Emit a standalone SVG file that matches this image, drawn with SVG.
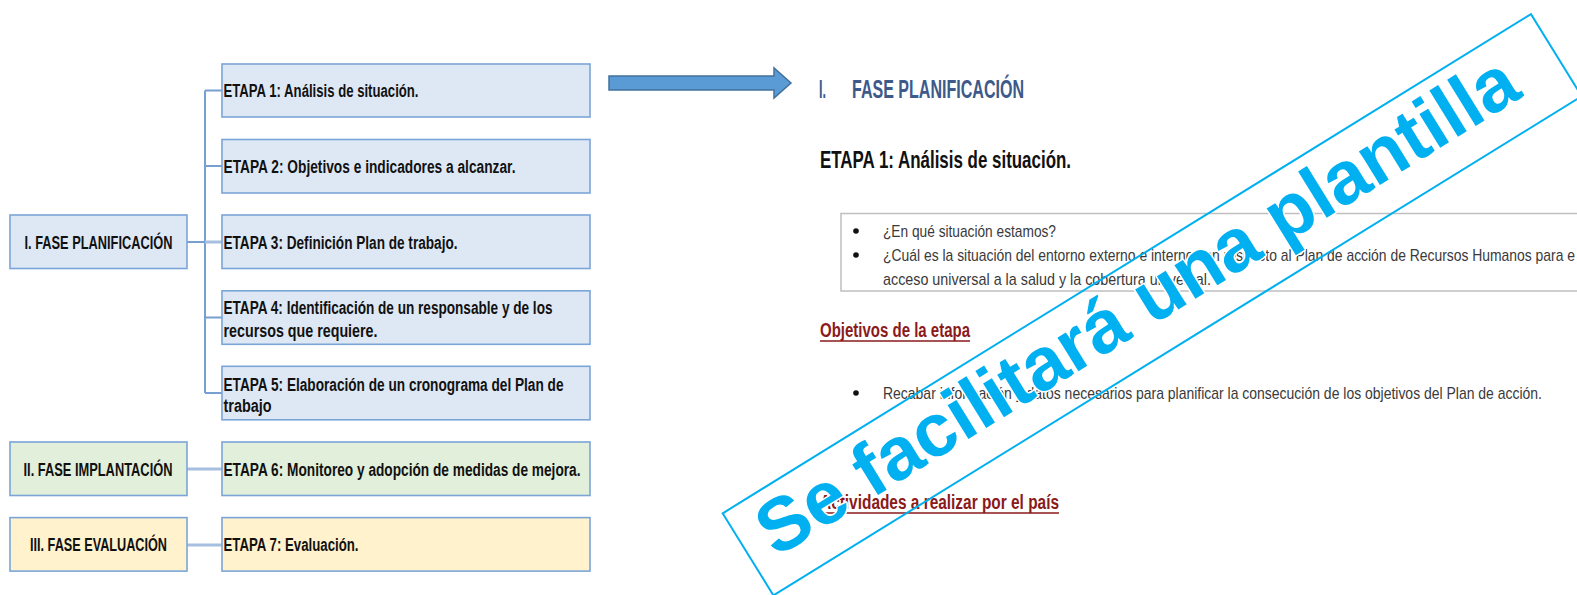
<svg xmlns="http://www.w3.org/2000/svg" width="1577" height="595" viewBox="0 0 1577 595">
<style>
.bb{fill:#DEE8F5;stroke:#7BA5D6;stroke-width:1.6}
.bg{fill:#E2EFDA;stroke:#7BA5D6;stroke-width:1.6}
.by{fill:#FFF2CC;stroke:#7BA5D6;stroke-width:1.6}
.t{font-family:'Liberation Sans',Arial,sans-serif;font-weight:bold;font-size:18px;fill:#111}
.tc{text-anchor:middle}
.c1{stroke:#779FD0;stroke-width:2;fill:none}
.c2{stroke:#A6BFE0;stroke-width:3;fill:none}
.h1{font-family:'Liberation Sans',Arial,sans-serif;font-weight:bold;font-size:25px;fill:#3D5A8A}
.h2{font-family:'Liberation Sans',Arial,sans-serif;font-weight:bold;font-size:24px;fill:#111}
.p{font-family:'Liberation Sans',Arial,sans-serif;font-size:17px;fill:#3A3A3A}
.r{font-family:'Liberation Sans',Arial,sans-serif;font-weight:bold;font-size:20px;fill:#8B1A1A}
.u{stroke:#8B1A1A;stroke-width:1.5}
.dot{fill:#111}
.wm{font-family:'Liberation Sans',Arial,sans-serif;font-weight:bold;font-size:75px;fill:#00B0F0;stroke:#fff;stroke-width:3;paint-order:stroke;stroke-linejoin:round}
</style>
<g id="connectors">
<path class="c1" d="M205 90.5 V393 M205 90.5 H222 M205 166 H222 M205 317.5 H222 M205 393 H222 M187 242 H205"/>
<path class="c2" d="M205 242 H222 M187 469 H222 M187 545 H222"/>
</g>
<g id="fase1"><rect class="bb" x="10" y="215" width="177" height="53.5"/><text class="t tc" x="98.5" y="248.5" textLength="148" lengthAdjust="spacingAndGlyphs">I. FASE PLANIFICACIÓN</text></g>
<g id="fase2"><rect class="bg" x="10" y="442" width="177" height="53.5"/><text class="t tc" x="98" y="475.5" textLength="149" lengthAdjust="spacingAndGlyphs">II. FASE IMPLANTACIÓN</text></g>
<g id="fase3"><rect class="by" x="10" y="517.6" width="177" height="53.5"/><text class="t tc" x="98.5" y="551" textLength="137" lengthAdjust="spacingAndGlyphs">III. FASE EVALUACIÓN</text></g>
<g id="etapa1"><rect class="bb" x="222" y="64" width="368" height="53"/><text class="t" x="223.5" y="97" textLength="195" lengthAdjust="spacingAndGlyphs">ETAPA 1: Análisis de situación.</text></g>
<g id="etapa2"><rect class="bb" x="222" y="139.5" width="368" height="53.5"/><text class="t" x="223.5" y="172.5" textLength="292" lengthAdjust="spacingAndGlyphs">ETAPA 2: Objetivos e indicadores a alcanzar.</text></g>
<g id="etapa3"><rect class="bb" x="222" y="215" width="368" height="53.5"/><text class="t" x="223.5" y="248.5" textLength="234" lengthAdjust="spacingAndGlyphs">ETAPA 3: Definición Plan de trabajo.</text></g>
<g id="etapa4"><rect class="bb" x="222" y="290.8" width="368" height="53.5"/><text class="t" x="223.5" y="314" textLength="329" lengthAdjust="spacingAndGlyphs">ETAPA 4: Identificación de un responsable y de los</text><text class="t" x="223.5" y="337" textLength="154" lengthAdjust="spacingAndGlyphs">recursos que requiere.</text></g>
<g id="etapa5"><rect class="bb" x="222" y="366.3" width="368" height="53.5"/><text class="t" x="223.5" y="390.5" textLength="340" lengthAdjust="spacingAndGlyphs">ETAPA 5: Elaboración de un cronograma del Plan de</text><text class="t" x="223.5" y="411.5" textLength="48" lengthAdjust="spacingAndGlyphs">trabajo</text></g>
<g id="etapa6"><rect class="bg" x="222" y="442" width="368" height="53.5"/><text class="t" x="223.5" y="475.5" textLength="357" lengthAdjust="spacingAndGlyphs">ETAPA 6: Monitoreo y adopción de medidas de mejora.</text></g>
<g id="etapa7"><rect class="by" x="222" y="517.6" width="368" height="53.5"/><text class="t" x="223.5" y="551" textLength="135" lengthAdjust="spacingAndGlyphs">ETAPA 7: Evaluación.</text></g>
<g id="arrow"><path d="M609 76 H774 V68 L791 83 L774 98 V90 H609 Z" fill="#5B9BD5" stroke="#41719C" stroke-width="1.5" stroke-linejoin="miter"/></g>
<g id="document">
<text class="h1" x="819" y="97.5" textLength="7" lengthAdjust="spacingAndGlyphs">I.</text>
<text class="h1" x="852" y="97.5" textLength="172" lengthAdjust="spacingAndGlyphs">FASE PLANIFICACIÓN</text>
<text class="h2" x="820" y="167.5" textLength="251" lengthAdjust="spacingAndGlyphs">ETAPA 1: Análisis de situación.</text>
<rect x="841" y="213.5" width="800" height="77.5" fill="none" stroke="#BFBFBF" stroke-width="1.5"/>
<circle class="dot" cx="856" cy="231" r="2.8"/>
<circle class="dot" cx="856" cy="255" r="2.8"/>
<text class="p" x="883" y="236.5" textLength="173" lengthAdjust="spacingAndGlyphs">¿En qué situación estamos?</text>
<text class="p" x="883" y="260.5" textLength="692" lengthAdjust="spacingAndGlyphs">¿Cuál es la situación del entorno externo e interno con respecto al Plan de acción de Recursos Humanos para e</text>
<text class="p" x="883" y="284.5" textLength="328" lengthAdjust="spacingAndGlyphs">acceso universal a la salud y la cobertura universal.</text>
<text class="r" x="820" y="337" textLength="150" lengthAdjust="spacingAndGlyphs">Objetivos de la etapa</text>
<line class="u" x1="820" y1="341" x2="970" y2="341"/>
<circle class="dot" cx="856" cy="393" r="2.8"/>
<text class="p" x="883" y="399" textLength="659" lengthAdjust="spacingAndGlyphs">Recabar información y datos necesarios para planificar la consecución de los objetivos del Plan de acción.</text>
<text class="r" x="820" y="509" textLength="239" lengthAdjust="spacingAndGlyphs">Actividades a realizar por el país</text>
<line class="u" x1="820" y1="513" x2="1059" y2="513"/>
</g>
<g id="watermark" transform="translate(722.7 513.3) rotate(-31.7)">
<rect x="0" y="0" width="950" height="96.5" fill="none" stroke="#00B0F0" stroke-width="2"/>
<text class="wm" x="22" y="66">Se facilitará una plantilla</text>
</g>
</svg>
